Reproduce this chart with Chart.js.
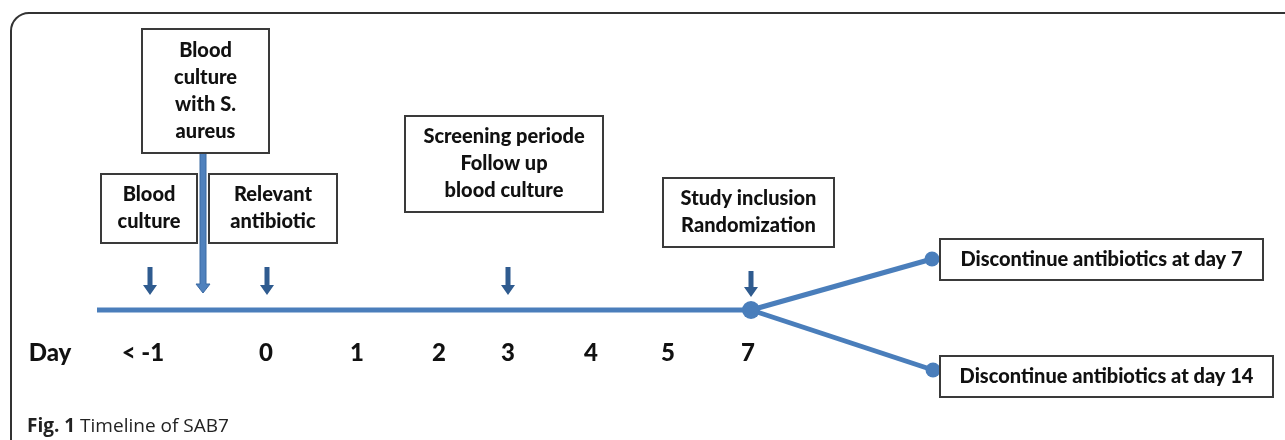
<!DOCTYPE html>
<html>
<head>
<meta charset="utf-8">
<script src="https://cdn.jsdelivr.net/npm/chart.js@4/dist/chart.umd.min.js"></script>
<style>
  html, body { margin: 0; padding: 0; background: #fff; }
  canvas { display: block; }
</style>
</head>
<body>
<canvas id="timelineChart"></canvas>
<script>
// timeline data
const dayLabels = ["< -1", "0", "1", "2", "3", "4", "5", "7"];
const dayX = [143, 266, 357, 439, 508, 591, 668, 748];
const eventLabels = [
  ["Blood", "culture"],
  ["Blood", "culture", "with S.", "aureus"],
  ["Relevant", "antibiotic"],
  ["Screening periode", "Follow up", "blood culture"],
  ["Study inclusion", "Randomization"],
];
const eventX = [150, 203, 267, 508, 751];
const outcomeLabels = ["Discontinue antibiotics at day 7", "Discontinue antibiotics at day 14"];
const captionBold = "Fig. 1";
const captionText = "Timeline of SAB7";

// layout (canvas units)
const lineY = 310;
const startX = 97;
const branchEnd = [{ x: 932, y: 259 }, { x: 933, y: 370 }];
const eventBoxes = [
  { x1: 101, y1: 174, x2: 197, y2: 243 },
  { x1: 142, y1: 29, x2: 269, y2: 153 },
  { x1: 209, y1: 174, x2: 337, y2: 243 },
  { x1: 405, y1: 116, x2: 603, y2: 212 },
  { x1: 663, y1: 178, x2: 834, y2: 247 },
];
const outcomeBoxes = [
  { x1: 940, y1: 239, x2: 1263, y2: 280 },
  { x1: 940, y1: 356, x2: 1273, y2: 397 },
];

const blue = "#4a7ebb";
const darkBlue = "#2f5b8f";

const canvas = document.getElementById("timelineChart");
canvas.width = 1285;
canvas.height = 440;
const ctx = canvas.getContext("2d");

const diagramPlugin = {
  id: "diagram",
  beforeDraw(chart) {
    const c = chart.ctx;
    c.save();
    c.fillStyle = "#fff";
    c.fillRect(0, 0, chart.width, chart.height);
    // outer frame
    const xs = chart.scales.x, ys = chart.scales.y;
    const l = xs.getPixelForValue(11), t = ys.getPixelForValue(13), r = 18;
    c.strokeStyle = "#333";
    c.lineWidth = 2;
    c.beginPath();
    c.moveTo(l, chart.height + 5);
    c.lineTo(l, t + r);
    c.arcTo(l, t, l + r, t, r);
    c.lineTo(chart.width + 5, t);
    c.stroke();
    c.restore();
  },
  afterDatasetsDraw(chart) {
    const c = chart.ctx;
    const xs = chart.scales.x, ys = chart.scales.y;
    const px = v => xs.getPixelForValue(v);
    const py = v => ys.getPixelForValue(v);
    c.save();

    // long arrow from the S. aureus box
    const ax = px(eventX[1]);
    c.fillStyle = "#4f81bd";
    c.strokeStyle = "#3b6aa3";
    c.lineWidth = 1;
    c.beginPath();
    c.moveTo(ax - 3, py(153));
    c.lineTo(ax + 3, py(153));
    c.lineTo(ax + 3, py(284));
    c.lineTo(ax + 7, py(284));
    c.lineTo(ax, py(293));
    c.lineTo(ax - 7, py(284));
    c.lineTo(ax - 3, py(284));
    c.closePath();
    c.fill();
    c.stroke();

    // short arrows
    eventX.forEach((x, i) => {
      if (i === 1) return;
      const cx = px(x);
      const top = i === 4 ? 271 : 267;
      const tip = i === 4 ? 297 : 295;
      c.fillStyle = darkBlue;
      c.beginPath();
      c.moveTo(cx - 2.5, py(top));
      c.lineTo(cx + 2.5, py(top));
      c.lineTo(cx + 2.5, py(tip - 10));
      c.lineTo(cx + 7, py(tip - 10));
      c.lineTo(cx, py(tip));
      c.lineTo(cx - 7, py(tip - 10));
      c.lineTo(cx - 2.5, py(tip - 10));
      c.closePath();
      c.fill();
    });

    // boxes
    const drawBox = (b, lines) => {
      const x1 = px(b.x1), y1 = py(b.y1), x2 = px(b.x2), y2 = py(b.y2);
      c.fillStyle = "#fff";
      c.fillRect(x1, y1, x2 - x1, y2 - y1);
      c.strokeStyle = "#3a3a3a";
      c.lineWidth = 2;
      c.strokeRect(x1, y1, x2 - x1, y2 - y1);
      c.fillStyle = "#111";
      c.font = "900 20px Lato";
      c.textAlign = "center";
      c.textBaseline = "middle";
      const lh = 27;
      const cy = (y1 + y2) / 2 - ((lines.length - 1) * lh) / 2;
      lines.forEach((s, k) => c.fillText(s, (x1 + x2) / 2, cy + k * lh));
    };
    eventBoxes.forEach((b, i) => drawBox(b, eventLabels[i]));
    outcomeBoxes.forEach((b, i) => drawBox(b, [outcomeLabels[i]]));

    // day axis
    c.fillStyle = "#111";
    c.font = "900 24px Lato";
    c.textAlign = "center";
    c.textBaseline = "middle";
    c.fillText("Day", px(50), py(353));
    dayLabels.forEach((d, i) => c.fillText(d, px(dayX[i]), py(353)));

    // caption
    c.textAlign = "left";
    c.fillStyle = "#222";
    c.font = "bold 19px 'Open Sans'";
    c.fillText(captionBold, px(27), py(427));
    const w = c.measureText(captionBold + " ").width;
    c.font = "400 19px 'Open Sans'";
    c.fillText(captionText, px(27) + w, py(427));
    c.restore();
  },
};

new Chart(ctx, {
  type: "scatter",
  data: {
    datasets: [
      {
        type: "line",
        data: [{ x: startX, y: lineY }, { x: eventX[4], y: lineY }],
        borderColor: blue,
        borderWidth: 5,
        pointRadius: 0,
      },
      {
        type: "line",
        data: [{ x: eventX[4], y: lineY }, branchEnd[0]],
        borderColor: blue,
        backgroundColor: blue,
        borderWidth: 5,
        pointRadius: [0, 7.5],
        pointBorderWidth: 0,
      },
      {
        type: "line",
        data: [{ x: eventX[4], y: lineY }, branchEnd[1]],
        borderColor: blue,
        backgroundColor: blue,
        borderWidth: 5,
        pointRadius: [0, 7.5],
        pointBorderWidth: 0,
      },
      {
        data: [{ x: eventX[4], y: lineY }],
        backgroundColor: blue,
        borderWidth: 0,
        pointRadius: 9,
      },
    ],
  },
  options: {
    responsive: false,
    animation: false,
    layout: { padding: 0, autoPadding: false },
    scales: {
      x: { type: "linear", min: 0, max: 1285, display: false },
      y: { type: "linear", min: 0, max: 440, reverse: true, display: false },
    },
    plugins: {
      legend: { display: false },
      tooltip: { enabled: false },
    },
  },
  plugins: [diagramPlugin],
});
</script>
</body>
</html>
